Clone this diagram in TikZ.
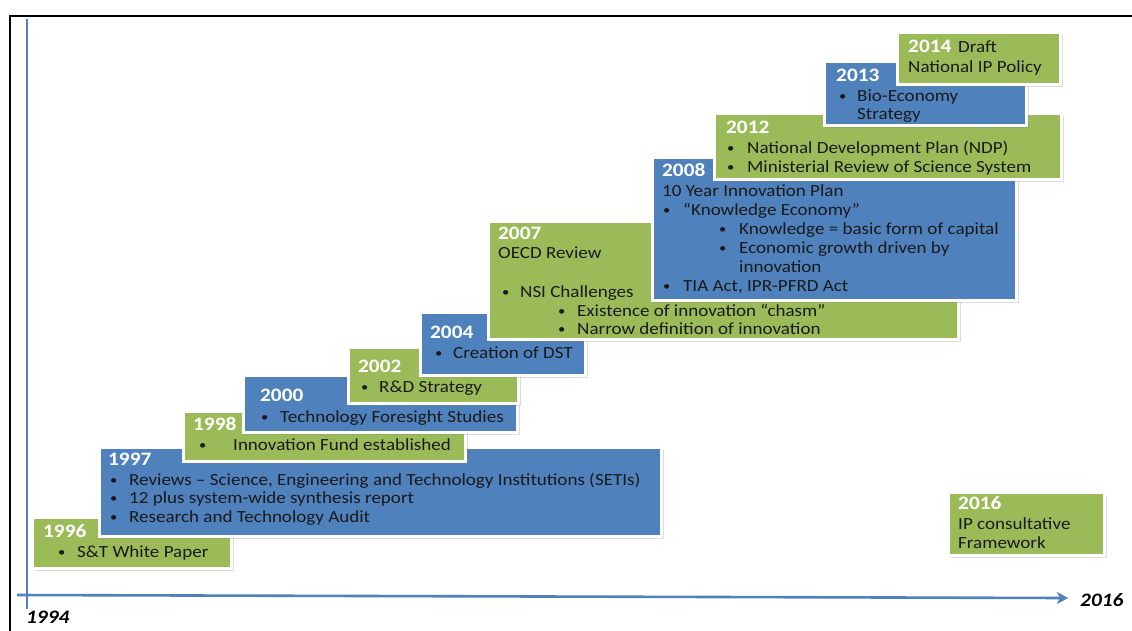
\documentclass[tikz,border=0pt]{standalone}
\usepackage{fontspec}
\usetikzlibrary{shadows,arrows.meta}
\newfontfamily\calfont[FakeStretch=1.12]{Carlito}
\definecolor{bgreen}{HTML}{9BBB59}
\definecolor{bblue}{HTML}{4F81BD}
\definecolor{txtc}{HTML}{1A1A1A}
% box: name, style, left, top, right, bottom
\newcommand\tbox[6]{\node[#2, minimum width={#5-#3+3}, minimum height={#6-#4+3}] (#1) at ({#3-1.5},{#4-1.5}) {};}
% bullet line: name, bullet x, text x, baseline y, text
\newcommand\bul[5]{\node[bl] (#1b) at (#2,{#4-1}) {•}; \node[tx] (#1) at (#3,#4) {#5};}
\tikzset{
  box/.style={draw=white, line width=3pt, inner sep=0pt, anchor=north west,
    drop shadow={shadow xshift=2.5pt, shadow yshift=-2.5pt, opacity=0.28}},
  gbox/.style={box, fill=bgreen},
  bbox/.style={box, fill=bblue},
  yr/.style={font=\calfont\fontsize{19}{22}\selectfont\bfseries, text=white, anchor=base west, inner sep=0pt},
  tx/.style={font=\calfont\fontsize{17}{20}\selectfont, text=txtc, anchor=base west, inner sep=0pt},
  bl/.style={font=\calfont\fontsize{13}{15}\selectfont, text=txtc, anchor=base west, inner sep=0pt},
  axl/.style={font=\calfont\fontsize{19}{22}\selectfont\bfseries\itshape, text=black, anchor=base west, inner sep=0pt},
  axis/.style={draw=bblue, line width=2.6pt},
}
\begin{document}
\begin{tikzpicture}[x=1pt,y=-1pt]
\useasboundingbox (0,0) rectangle (1132,630);
% frame
\draw[black, line width=2pt] (10,631) -- (10,16) -- (1133,16);
% axes
\coordinate (vs) at (27,19);
\coordinate (ve) at (27,609);
\coordinate (hs) at (17,595);
\coordinate (he) at (1068,598);
\draw[axis] (vs) -- (ve);
\draw[axis, -{Stealth[length=11pt,width=12pt,inset=3pt]}] (hs) -- (he);
\node[axl] (l1994) at (26,623) {1994};
\node[axl] (l2016) at (1080,606) {2016};

% 1996
\tbox{b1996}{gbox}{32}{517}{228}{565}
\node[yr] (y1996) at (43,537) {1996};
\bul{a1996}{58}{77}{557}{S\&T White Paper}
% 1997
\tbox{b1997}{bbox}{99}{447}{658}{533}
\node[yr] (y1997) at (108,465) {1997};
\bul{a1997}{110}{129}{485}{Reviews – Science, Engineering and Technology Institutions (SETIs)}
\bul{c1997}{110}{129}{503}{12 plus system-wide synthesis report}
\bul{d1997}{110}{129}{522}{Research and Technology Audit}
% 1998
\tbox{b1998}{gbox}{183}{411}{462}{458}
\node[yr] (y1998) at (193,430) {1998};
\bul{a1998}{199}{233}{450}{Innovation Fund established}
% 2000
\tbox{b2000}{bbox}{243}{375}{514}{429}
\node[yr] (y2000) at (260,401) {2000};
\bul{a2000}{261}{280}{422}{Technology Foresight Studies}
% 2002
\tbox{b2002}{gbox}{348}{347}{515}{400}
\node[yr] (y2002) at (358,372) {2002};
\bul{a2002}{361}{379}{392}{R\&D Strategy}
% 2004
\tbox{b2004}{bbox}{420}{312}{582}{372}
\node[yr] (y2004) at (430,338) {2004};
\bul{a2004}{435}{453}{358}{Creation of DST}
% 2007
\tbox{b2007}{gbox}{488}{221}{955}{336}
\node[yr] (y2007) at (498,239) {2007};
\node[tx] (o2007) at (498,258) {OECD Review};
\bul{a2007}{502}{520}{297}{NSI Challenges}
\bul{c2007}{558}{577}{316}{Existence of innovation “chasm”}
\bul{d2007}{558}{577}{334}{Narrow definition of innovation}
% 2008
\tbox{b2008}{bbox}{652}{157}{1013}{297}
\node[yr] (y2008) at (662,176) {2008};
\node[tx] (o2008) at (662,196) {10 Year Innovation Plan};
\bul{a2008}{663}{683}{215}{“Knowledge Economy”}
\bul{c2008}{719}{739}{234}{Knowledge = basic form of capital}
\bul{d2008}{719}{739}{253}{Economic growth driven by}
\node[tx] (e2008) at (739,272) {innovation};
\bul{f2008}{663}{683}{291}{TIA Act, IPR-PFRD Act}
% 2012
\tbox{b2012}{gbox}{714}{113}{1058}{176}
\node[yr] (y2012) at (726,133) {2012};
\bul{a2012}{727}{747}{153}{National Development Plan (NDP)}
\bul{c2012}{727}{747}{172}{Ministerial Review of Science System}
% 2013
\tbox{b2013}{bbox}{824}{61}{1023}{122}
\node[yr] (y2013) at (836,81) {2013};
\bul{a2013}{839}{857}{101}{Bio-Economy}
\node[tx] (c2013) at (857,119) {Strategy};
% 2014
\tbox{b2014}{gbox}{897}{32}{1057}{81}
\node[yr] (y2014) at (908,52) {2014};
\node[tx] (a2014) at (958,52) {Draft};
\node[tx] (c2014) at (908,72) {National IP Policy};
% 2016
\tbox{b2016}{gbox}{948}{492}{1101}{552}
\node[yr] (y2016) at (958,509) {2016};
\node[tx] (a2016) at (958,529) {IP consultative};
\node[tx] (c2016) at (958,548) {Framework};
\end{tikzpicture}
\end{document}
